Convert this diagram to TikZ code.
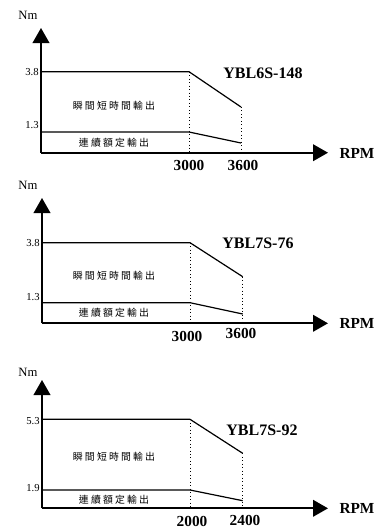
\documentclass[tikz,border=0pt]{standalone}
\usepackage{fontspec}
\setmainfont{Liberation Serif}
\newfontfamily\cjk[LetterSpace=22]{Noto Sans CJK TC}
\usetikzlibrary{arrows.meta}

\begin{document}
\begin{tikzpicture}[x=0.75pt,y=0.75pt,yscale=-1,
  axis/.style={line width=1.3pt,-{Triangle[length=11.25pt,width=12.5pt]}},
  curve/.style={line width=0.9pt},
  guide/.style={dotted,line width=0.6pt},
  unit/.style={font=\fontsize{9.5}{11}\selectfont,inner sep=0.75pt},
  tick/.style={font=\fontsize{8}{9}\selectfont,inner sep=0.75pt,anchor=east},
  zone/.style={font=\cjk\fontsize{7.4}{9}\selectfont,inner sep=0.75pt},
  model/.style={font=\fontsize{12}{14}\selectfont\bfseries,inner sep=0.75pt},
  rpm/.style={font=\fontsize{11.5}{14}\selectfont\bfseries,inner sep=0.75pt}]
\useasboundingbox (0,0) rectangle (386,532);

% ---- YBL6S-148
%Axes
\draw [axis] (41,152.7) -- (41,28) ;
\draw [axis] (41,152.7) -- (328,152.7) ;
%Peak torque
\draw [curve] (41,71.7) -- (189,71.7) -- (241,107) ;
%Rated torque
\draw [curve] (41,132) -- (189,132) -- (241,143) ;
%Guides
\draw [guide] (189,71.7) -- (189,152.7) ;
\draw [guide] (241,107) -- (241,152.7) ;
% Text Node
\node [unit] (nmA) at (28,15) {Nm};
\node [tick] (hiA) at (40,72) {3.8};
\node [tick] (loA) at (40,125) {1.3};
\node [zone] (pkA) at (114,106) {瞬間短時間輸出};
\node [zone] (rtA) at (114,143) {連續額定輸出};
\node [model] (mdA) at (263,73) {YBL6S-148};
\node [rpm] (s1A) at (189,165) {3000};
\node [rpm] (s2A) at (243,165) {3600};
\node [rpm] (rpA) at (357,153) {RPM};

% ---- YBL7S-76
%Axes
\draw [axis] (42,323.3) -- (42,198) ;
\draw [axis] (42,323.3) -- (328,323.3) ;
%Peak torque
\draw [curve] (42,242.7) -- (190,242.7) -- (242.7,276.7) ;
%Rated torque
\draw [curve] (42,302.7) -- (190,302.7) -- (242.7,314) ;
%Guides
\draw [guide] (190,242.7) -- (190,323.3) ;
\draw [guide] (242.7,276.7) -- (242.7,323.3) ;
% Text Node
\node [unit] (nmB) at (28,185) {Nm};
\node [tick] (hiB) at (41,243) {3.8};
\node [tick] (loB) at (41,296.7) {1.3};
\node [zone] (pkB) at (114,276) {瞬間短時間輸出};
\node [zone] (rtB) at (114,312.7) {連續額定輸出};
\node [model] (mdB) at (258,243) {YBL7S-76};
\node [rpm] (s1B) at (187,336) {3000};
\node [rpm] (s2B) at (241,333) {3600};
\node [rpm] (rpB) at (357,323) {RPM};

% ---- YBL7S-92
%Axes
\draw [axis] (42,508.3) -- (42,380) ;
\draw [axis] (42,508.3) -- (328,508.3) ;
%Peak torque
\draw [curve] (42,419.3) -- (190,419.3) -- (242.7,453.3) ;
%Rated torque
\draw [curve] (42,490) -- (190,490) -- (242.7,500.7) ;
%Guides
\draw [guide] (190,419.3) -- (190,508.3) ;
\draw [guide] (242.7,453.3) -- (242.7,508.3) ;
% Text Node
\node [unit] (nmC) at (28,372) {Nm};
\node [tick] (hiC) at (41,421) {5.3};
\node [tick] (loC) at (41,488) {1.9};
\node [zone] (pkC) at (114,456.7) {瞬間短時間輸出};
\node [zone] (rtC) at (114,500) {連續額定輸出};
\node [model] (mdC) at (262,430) {YBL7S-92};
\node [rpm] (s1C) at (192,521.7) {2000};
\node [rpm] (s2C) at (245,520) {2400};
\node [rpm] (rpC) at (357,508) {RPM};

\end{tikzpicture}
\end{document}
